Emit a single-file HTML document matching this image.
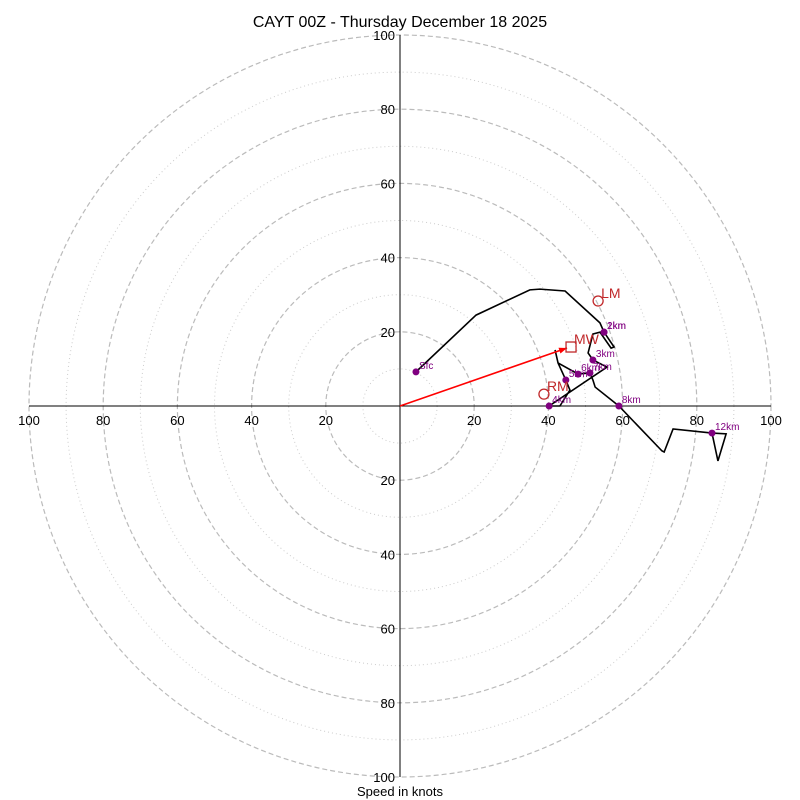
<!DOCTYPE html>
<html><head><meta charset="utf-8"><style>
body{margin:0;background:#fff}
svg{display:block;font-family:"Liberation Sans","DejaVu Sans",sans-serif}
</style></head><body>
<svg id="chart" width="800" height="800">
<rect width="800" height="800" fill="#fff"/>
<text x="400" y="27" font-size="16" text-anchor="middle">CAYT 00Z - Thursday December 18 2025</text>
<g id="rings"></g>
<g id="axes"></g>
<g id="series"></g>
<text x="400" y="796" font-size="13" text-anchor="middle">Speed in knots</text>
</svg>
<script>
const ringValues=[10,20,30,40,50,60,70,80,90,100];
const tickLabels=[20,40,60,80,100];
const pathU=[4.3,20.5,35.0,37.7,44.5,53.9,55.0,57.7,56.9,53.9,52.0,50.7,52.0,55.8,40.2,43.1,45.8,44.7,42.6,41.8,42.6,48.0,51.2,52.0,52.6,59.0,70.6,71.2,73.6,84.1,87.9,85.7,84.1];
const pathV=[9.2,24.5,31.3,31.5,31.0,22.4,19.9,15.9,15.6,19.9,19.4,14.3,12.4,10.5,0,0,4.3,7.0,11.6,15.1,11.6,8.6,8.9,7.0,5.1,0,-12.1,-12.4,-6.2,-7.3,-7.5,-14.8,-7.3];
const markerLabels=["Sfc","1km","2km","3km","4km","5km","6km","7km","8km","12km"];
const markerU=[4.3,55.0,55.0,52.0,40.2,44.7,48.0,51.2,59.0,84.1];
const markerV=[9.2,19.9,19.9,12.4,0,7.0,8.6,8.9,0,-7.3];
const motionLabels=["MW","LM","RM"];
const motionU=[46.1,53.4,38.8];
const motionV=[15.9,28.3,3.2];

const cx=400,cy=406,s=3.71;
const X=u=>cx+u*s, Y=v=>cy-v*s;
const NS="http://www.w3.org/2000/svg";
function mk(tag,attrs,parent){const e=document.createElementNS(NS,tag);for(const k in attrs)e.setAttribute(k,attrs[k]);parent.appendChild(e);return e;}
const rings=document.getElementById('rings'),axes=document.getElementById('axes'),ser=document.getElementById('series');
ringValues.forEach(r=>{
  const major=r%20===0;
  const c=mk('circle',{cx:cx,cy:cy,r:r*s,fill:'none',stroke:major?'#bbb':'#ccc','stroke-width':major?1.2:1,'stroke-dasharray':major?'5,3':'1,3'},rings);
  
  
});
let l=mk('line',{x1:X(-100),y1:cy,x2:X(100),y2:cy,stroke:'#000','stroke-width':1},axes);


l=mk('line',{x1:cx,y1:Y(100),x2:cx,y2:Y(-100),stroke:'#000','stroke-width':1},axes);


tickLabels.forEach(t=>{
  [-1,1].forEach(sg=>{
    let e=mk('text',{x:X(sg*t),y:cy+19,'font-size':13,'text-anchor':'middle'},axes);e.textContent=t;
    
    
    e=mk('text',{x:cx-5,y:Y(sg*t)+5,'font-size':13,'text-anchor':'end'},axes);e.textContent=t;
    
    
  });
});
let pts=pathU.map((u,i)=>X(u)+','+Y(pathV[i])).join(' ');
let pl=mk('polyline',{points:pts,fill:'none',stroke:'#000','stroke-width':1.6,'stroke-linejoin':'miter'},ser);


// mean wind vector
const mx=X(motionU[0]),my=Y(motionV[0]);
let v=mk('line',{x1:cx,y1:cy,x2:mx-4,y2:my+1,stroke:'red','stroke-width':1.6},ser);


const ang=Math.atan2(my-cy,mx-cx),ex=mx-4,ey=my+1;
let ah=mk('polygon',{points:`${ex},${ey} ${ex-8*Math.cos(ang)+3*Math.sin(ang)},${ey-8*Math.sin(ang)-3*Math.cos(ang)} ${ex-8*Math.cos(ang)-3*Math.sin(ang)},${ey-8*Math.sin(ang)+3*Math.cos(ang)}`,fill:'red'},ser);


markerLabels.forEach((lab,i)=>{
  const px=X(markerU[i]),py=Y(markerV[i]);
  const c=mk('circle',{cx:px,cy:py,r:3.5,fill:'purple'},ser);
  
  
  const t=mk('text',{x:px+3,y:py-3,'font-size':10,fill:'purple'},ser);t.textContent=lab;
  
  
});
motionLabels.forEach((lab,i)=>{
  const px=X(motionU[i]),py=Y(motionV[i]);
  let m;
  if(lab==='MW') m=mk('rect',{x:px-5,y:py-5,width:10,height:10,fill:'none',stroke:'#c0282a','stroke-width':1.3},ser);
  else m=mk('circle',{cx:px,cy:py,r:5,fill:'none',stroke:'#c0282a','stroke-width':1.3},ser);
  
  
  const t=mk('text',{x:px+3,y:py-3,'font-size':14,fill:'#c0282a'},ser);t.textContent=lab;
  
  
});
</script>
</body></html>
